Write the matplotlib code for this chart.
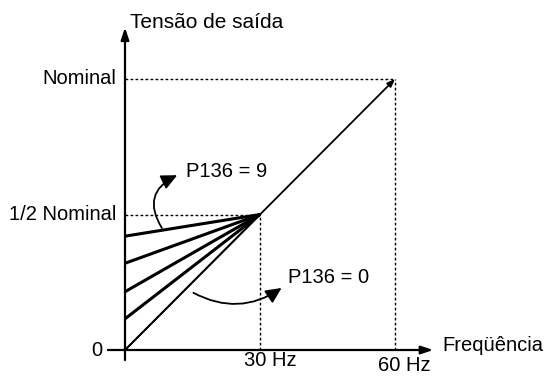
import matplotlib
matplotlib.use("Agg")
import matplotlib.pyplot as plt
from matplotlib.patches import FancyArrowPatch

plt.rcParams['font.family'] = ['Liberation Sans', 'DejaVu Sans']

# ---- data ----
freq_ticks = [30, 60]
freq_labels = ["30 Hz", "60 Hz"]
volt_ticks = [0, 0.5, 1.0]
volt_labels = ["0", "1/2 Nominal", "Nominal"]
boost_start = [0.42, 0.32, 0.215, 0.115, 0.0]   # starting voltage of each boost line
boost_end = (30, 0.5)
main_line_x = [0, 60]
main_line_y = [0, 1.0]

FS = 14.5

fig = plt.figure(figsize=(5.47, 3.76), dpi=100)
ax = fig.add_axes([0, 0, 1, 1])
ax.set_xlim(-125 / 4.5, (547 - 125) / 4.5)
ax.set_ylim(-26 / 271, 350 / 271)
ax.axis('off')

# axes with arrows
ax.annotate('', xy=(0, 1.19), xytext=(0, -0.037),
            arrowprops=dict(arrowstyle='-|>,head_length=0.9,head_width=0.3', lw=1.6,
                            color='black', mutation_scale=8, shrinkA=0, shrinkB=0))
ax.annotate('', xy=(68.5, 0), xytext=(-3.8, 0),
            arrowprops=dict(arrowstyle='-|>,head_length=0.9,head_width=0.3', lw=1.6,
                            color='black', mutation_scale=8, shrinkA=0, shrinkB=0))

# dotted guides
dot = dict(color='black', lw=1.0, ls=(0, (2.0, 1.6)))
ax.plot([0, 60], [1.0, 1.0], **dot)
ax.plot([60, 60], [0, 1.0], **dot)
ax.plot([0, 30], [0.5, 0.5], **dot)
ax.plot([30, 30], [0, 0.5], **dot)

# main V/f line
ax.annotate('', xy=(main_line_x[1], main_line_y[1]), xytext=(main_line_x[0], main_line_y[0]),
            arrowprops=dict(arrowstyle='-|>,head_length=0.9,head_width=0.35', lw=1.3,
                            color='black', mutation_scale=5, shrinkA=0, shrinkB=0))

# boost lines
for s in boost_start:
    lw = 1.3 if s == 0 else 2.2
    ax.plot([0, boost_end[0]], [s, boost_end[1]], color='black', lw=lw,
            solid_capstyle='butt')

# tick labels
for v, lab in zip(volt_ticks, volt_labels):
    if v == 0:
        ax.text(-5.0, v, lab, ha='right', va='center', fontsize=FS)
    else:
        ax.text(-1.9, v, lab, ha='right', va='center', fontsize=FS)
ax.text(30 - 3.5, -0.037, freq_labels[0], ha='left', va='center', fontsize=FS)
ax.text(60 - 3.8, -0.056, freq_labels[1], ha='left', va='center', fontsize=FS)

ax.text(70.5, 0.018, "Freqüência", ha='left', va='center', fontsize=FS)
ax.text(1.1, 1.21, "Tensão de saída", ha='left', va='center', fontsize=FS + 0.5)

ax.text(13.6, 0.66, "P136 = 9", ha='left', va='center', fontsize=FS)
ax.text(36.2, 0.266, "P136 = 0", ha='left', va='center', fontsize=FS)

# curved arrows
a1 = FancyArrowPatch((8.2, 0.45), (11.6, 0.645), connectionstyle='arc3,rad=-0.55',
                     arrowstyle='-|>,head_length=0.95,head_width=0.45', mutation_scale=10,
                     lw=1.3, color='black', shrinkA=0, shrinkB=0)
ax.add_patch(a1)
a2 = FancyArrowPatch((15.2, 0.211), (34.8, 0.229), connectionstyle='arc3,rad=0.3',
                     arrowstyle='-|>,head_length=0.95,head_width=0.45', mutation_scale=10,
                     lw=1.3, color='black', shrinkA=0, shrinkB=0)
ax.add_patch(a2)

fig.savefig('out.png', dpi=100)
